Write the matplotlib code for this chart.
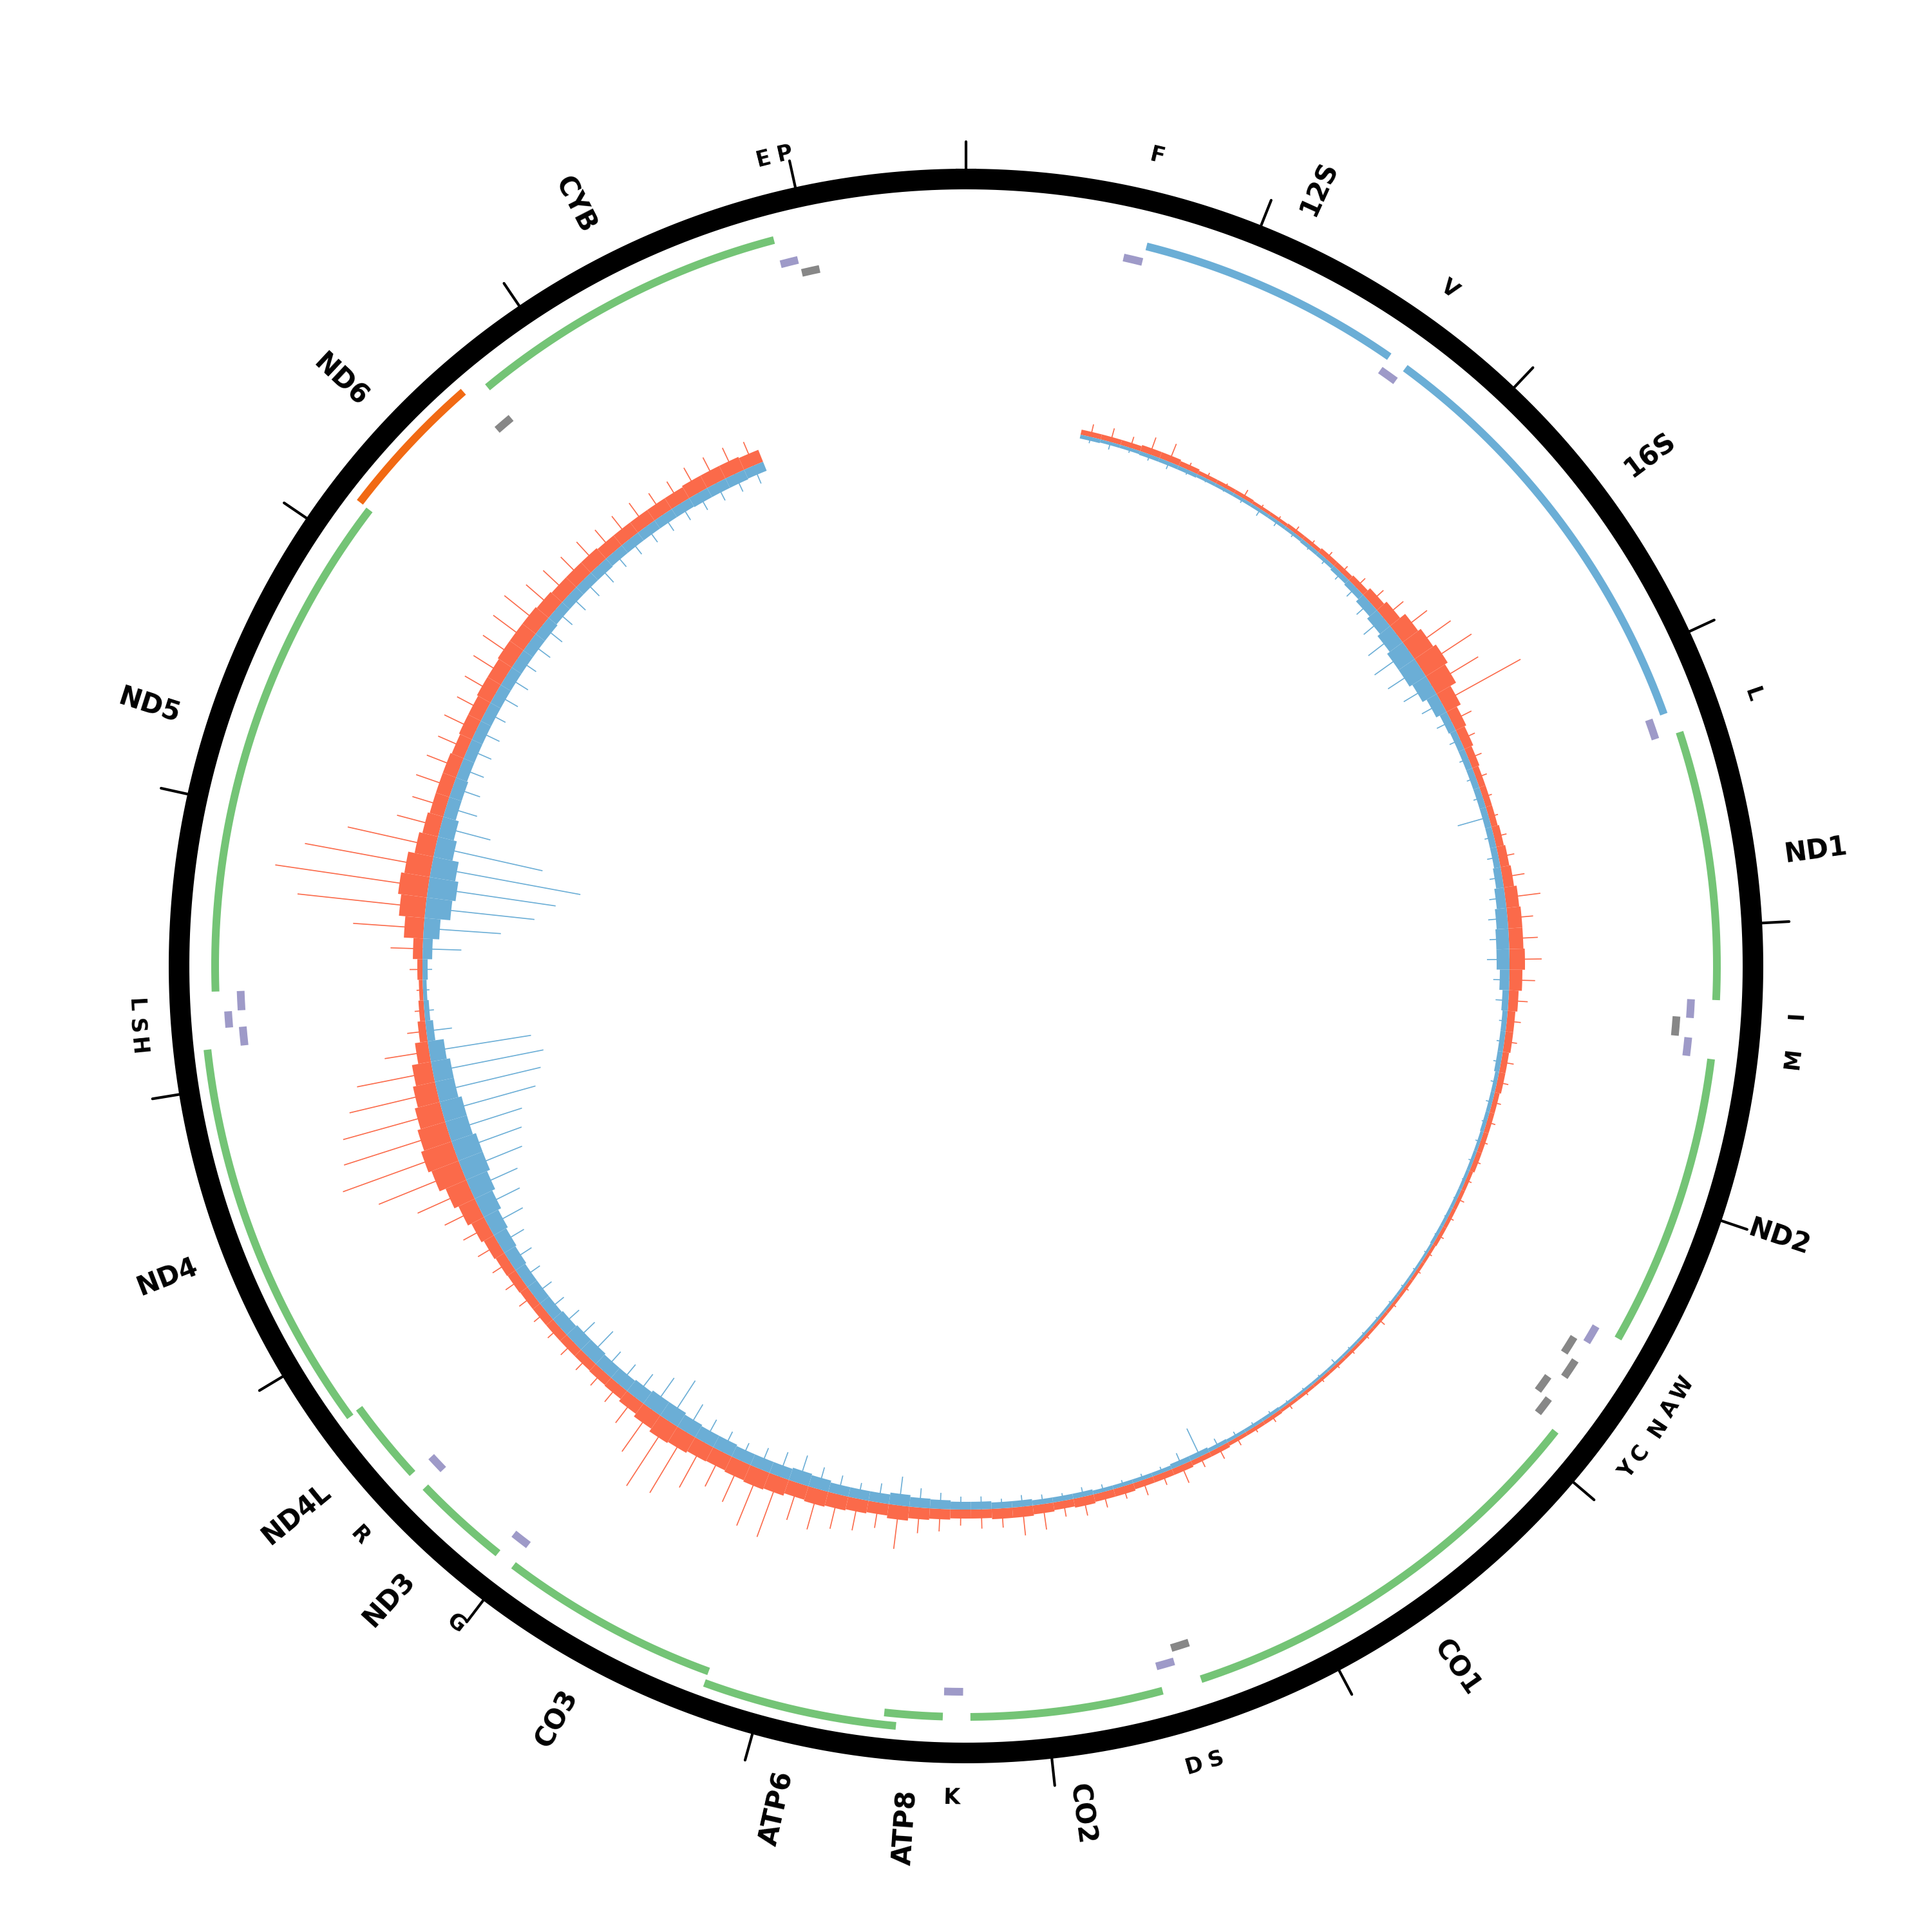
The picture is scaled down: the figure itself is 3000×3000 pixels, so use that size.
import numpy as np
import matplotlib
matplotlib.use("Agg")
import matplotlib.pyplot as plt

GENOME_LEN = 16569

# ---- annotation (rCRS coordinates) ----
gene_names = ["12S", "16S", "ND1", "ND2", "CO1", "CO2", "ATP8", "ATP6", "CO3",
              "ND3", "ND4L", "ND4", "ND5", "ND6", "CYB"]
gene_starts = [648, 1671, 3307, 4470, 5904, 7586, 8366, 8527, 9207,
               10059, 10470, 10760, 12337, 14149, 14747]
gene_ends = [1601, 3229, 4262, 5511, 7445, 8269, 8572, 9207, 9990,
             10404, 10766, 12137, 14148, 14673, 15887]
gene_strands = ["+", "+", "+", "+", "+", "+", "+", "+", "+",
                "+", "+", "+", "+", "-", "+"]
gene_kinds = ["rRNA", "rRNA", "CDS", "CDS", "CDS", "CDS", "CDS", "CDS", "CDS",
              "CDS", "CDS", "CDS", "CDS", "CDS", "CDS"]

trna_labels = ["F", "V", "L", "I", "", "M", "W", "A", "N", "C", "Y",
               "S", "D", "K", "G", "R", "H", "S", "L", "", "E", "P"]
trna_starts = [577, 1602, 3230, 4263, 4329, 4402, 5512, 5587, 5657, 5761, 5826,
               7446, 7518, 8295, 9991, 10405, 12138, 12207, 12266, 14674, 15888, 15956]
trna_ends = [647, 1670, 3304, 4331, 4400, 4469, 5579, 5655, 5729, 5826, 5891,
             7514, 7585, 8364, 10058, 10469, 12206, 12265, 12336, 14742, 15953, 16023]
trna_strands = ["+", "+", "+", "+", "-", "+", "+", "-", "-", "-", "-",
                "-", "+", "+", "+", "+", "+", "+", "+", "-", "+", "-"]

# ---- coverage, 100 bp bins starting at 560 (typical level and spike tip) ----
cov_start = 560
cov_step = 100
red_body = [8, 8, 8, 10, 10, 8, 6, 6, 6, 5,
            5, 6, 6, 8, 8, 10, 15, 20, 30, 35,
            40, 35, 25, 18, 15, 12, 10, 10, 10, 12,
            14, 16, 20, 22, 22, 24, 20, 15, 12, 12,
            10, 10, 8, 8, 8, 8, 6, 6, 6, 6,
            5, 5, 5, 5, 5, 5, 5, 5, 5, 5,
            5, 6, 6, 6, 8, 8, 10, 10, 10, 12,
            12, 14, 12, 14, 16, 16, 14, 14, 16, 18,
            22, 18, 20, 22, 24, 22, 26, 28, 26, 24,
            25, 28, 30, 25, 20, 16, 15, 14, 14, 14,
            14, 14, 15, 16, 18, 22, 28, 35, 45, 50,
            45, 40, 35, 30, 20, 12, 8, 6, 8, 15,
            30, 40, 45, 40, 30, 25, 22, 22, 22, 20,
            22, 22, 24, 24, 26, 26, 26, 24, 22, 22,
            22, 20, 20, 20, 20, 20, 22, 22, 22, 20]
red_peak = [20, 22, 18, 28, 30, 12, 10, 8, 15, 8,
            8, 12, 10, 14, 14, 20, 28, 40, 60, 80,
            95, 85, 140, 35, 25, 22, 18, 15, 15, 20,
            25, 35, 55, 40, 45, 50, 40, 30, 22, 20,
            20, 18, 14, 14, 12, 12, 10, 12, 10, 10,
            8, 8, 8, 8, 12, 8, 8, 8, 8, 8,
            10, 12, 10, 14, 20, 18, 30, 20, 25, 20,
            25, 30, 25, 40, 45, 30, 30, 25, 35, 40,
            68, 40, 50, 55, 65, 60, 100, 95, 70, 60,
            80, 110, 120, 80, 50, 35, 30, 28, 28, 25,
            25, 28, 30, 32, 38, 45, 60, 90, 140, 185,
            170, 160, 140, 120, 70, 30, 15, 10, 20, 50,
            110, 200, 240, 200, 140, 70, 55, 60, 55, 50,
            55, 50, 55, 60, 65, 70, 75, 60, 55, 50,
            50, 45, 45, 45, 40, 40, 45, 45, 45, 40]
blue_body = [6, 5, 5, 6, 6, 6, 5, 5, 5, 5,
             5, 5, 6, 6, 8, 10, 15, 20, 25, 30,
             30, 25, 18, 12, 10, 10, 10, 10, 10, 10,
             10, 12, 15, 18, 20, 20, 15, 10, 8, 8,
             8, 6, 6, 6, 5, 5, 5, 5, 5, 5,
             4, 4, 4, 4, 4, 4, 4, 4, 4, 4,
             4, 5, 5, 5, 6, 8, 8, 6, 6, 6,
             6, 8, 8, 8, 10, 10, 12, 12, 14, 15,
             18, 15, 15, 15, 18, 20, 18, 18, 18, 20,
             20, 22, 25, 25, 22, 20, 20, 22, 22, 20,
             18, 18, 18, 20, 22, 25, 30, 35, 40, 40,
             35, 35, 30, 30, 25, 12, 8, 6, 8, 15,
             25, 40, 45, 40, 30, 25, 20, 20, 18, 18,
             18, 18, 18, 18, 18, 18, 18, 16, 16, 16,
             16, 15, 15, 15, 15, 15, 16, 16, 16, 15]
blue_peak = [10, 12, 8, 10, 12, 8, 6, 6, 8, 12,
             10, 8, 8, 10, 14, 20, 28, 40, 55, 65,
             60, 50, 35, 25, 18, 15, 15, 15, 50, 15,
             18, 20, 25, 30, 30, 35, 25, 20, 12, 12,
             12, 10, 10, 8, 8, 8, 6, 6, 6, 6,
             6, 6, 6, 6, 6, 6, 6, 10, 6, 6,
             6, 8, 8, 10, 15, 48, 20, 10, 10, 10,
             12, 15, 12, 15, 18, 15, 20, 20, 25, 30,
             45, 30, 25, 30, 35, 45, 40, 35, 30, 35,
             40, 50, 75, 60, 45, 40, 40, 55, 45, 40,
             35, 35, 35, 40, 45, 60, 70, 80, 100, 110,
             120, 150, 165, 175, 160, 40, 15, 10, 15, 60,
             120, 170, 200, 235, 170, 80, 50, 45, 40, 40,
             40, 35, 40, 40, 35, 40, 40, 35, 35, 35,
             35, 30, 30, 30, 30, 30, 30, 30, 30, 30]

COLORS = {
    ("rRNA", "+"): "#6baed6",
    ("CDS", "+"): "#74c476",
    ("CDS", "-"): "#f16913",
    ("tRNA", "+"): "#9e9ac8",
    ("tRNA", "-"): "#878787",
}
RED = "#fb6a4a"
BLUE = "#6baed6"

PX = 72.0 / 300.0  # points per pixel at 300 dpi
RING_R = 1222
BASE_R = 844


def to_theta(pos):
    return np.deg2rad(np.asarray(pos, dtype=float) / GENOME_LEN * 360.0)


def assign_levels(starts, ends, base_levels, min_gap=20):
    # greedy stacking: bump a feature one lane out when it touches the previous one
    last_end = {}
    levels = []
    for s, e, lvl in zip(starts, ends, base_levels):
        while lvl in last_end and s - last_end[lvl] <= min_gap:
            lvl += 1
        last_end[lvl] = e
        levels.append(lvl)
    return levels


def draw_arc(ax, start, end, r, color):
    th = np.linspace(to_theta(start), to_theta(end), 200)
    ax.plot(th, np.full_like(th, r), color=color, lw=12 * PX,
            solid_capstyle="butt", zorder=3)


def radial_label(ax, pos, r, text, size):
    deg = pos / GENOME_LEN * 360.0
    if deg < 180:
        rot, ha = 90 - deg, "left"
    else:
        rot, ha = 270 - deg, "right"
    ax.text(np.deg2rad(deg), r, text, rotation=rot, rotation_mode="anchor",
            ha=ha, va="center", fontsize=size, fontweight="bold")


def tangent_label(ax, pos, r, text, size):
    deg = pos / GENOME_LEN * 360.0
    rot = 180 - deg if 90 < deg < 270 else -deg
    ax.text(np.deg2rad(deg), r, text, rotation=rot, rotation_mode="anchor",
            ha="center", va="center", fontsize=size, fontweight="bold")


fig = plt.figure(figsize=(10, 10), dpi=300)
ax = fig.add_axes([0, 0, 1, 1], projection="polar")
ax.set_theta_zero_location("N")
ax.set_theta_direction(-1)
ax.set_ylim(0, 1500)
ax.set_facecolor("none")
ax.axis("off")

# outer ring and ticks every 1 kb
th = np.linspace(0, 2 * np.pi, 1000)
ax.plot(th, np.full_like(th, RING_R), color="black", lw=32 * PX, zorder=2)
for p in range(0, GENOME_LEN, 1000):
    t = to_theta(p)
    ax.plot([t, t], [RING_R, 1280], color="black", lw=1.0,
            solid_capstyle="round", zorder=2)

# genes
g_levels = assign_levels(gene_starts, gene_ends, [0] * len(gene_names))
for name, s, e, st, kind, lvl in zip(gene_names, gene_starts, gene_ends,
                                      gene_strands, gene_kinds, g_levels):
    r = (1152 if kind == "rRNA" else 1166) + 19 * lvl
    draw_arc(ax, s, e, r, COLORS[(kind, st)])
    radial_label(ax, (s + e) / 2, 1282, name, 10)

# tRNAs
t_base = [1 if st == "+" else 0 for st in trna_strands]
t_levels = assign_levels(trna_starts, trna_ends, t_base)
for lab, s, e, st, lvl in zip(trna_labels, trna_starts, trna_ends,
                              trna_strands, t_levels):
    draw_arc(ax, s, e, 1106 + 21 * lvl, COLORS[("tRNA", st)])
    if lab:
        tangent_label(ax, (s + e) / 2, 1292, lab, 8)

# coverage: red outward, blue inward from the base circle
n = len(red_body)
centers = to_theta(cov_start + cov_step * (np.arange(n) + 0.5))
width = float(to_theta(cov_step))
ax.bar(centers, red_body, width=width, bottom=BASE_R, color=RED,
       linewidth=0, zorder=1)
ax.bar(centers, -np.asarray(blue_body), width=width, bottom=BASE_R, color=BLUE,
       linewidth=0, zorder=1)
ax.vlines(centers, BASE_R, BASE_R + np.asarray(red_peak), color=RED, lw=0.4, zorder=1)
ax.vlines(centers, BASE_R - np.asarray(blue_peak), BASE_R, color=BLUE, lw=0.4, zorder=1)

fig.savefig("out.png", dpi=300, facecolor="white")
